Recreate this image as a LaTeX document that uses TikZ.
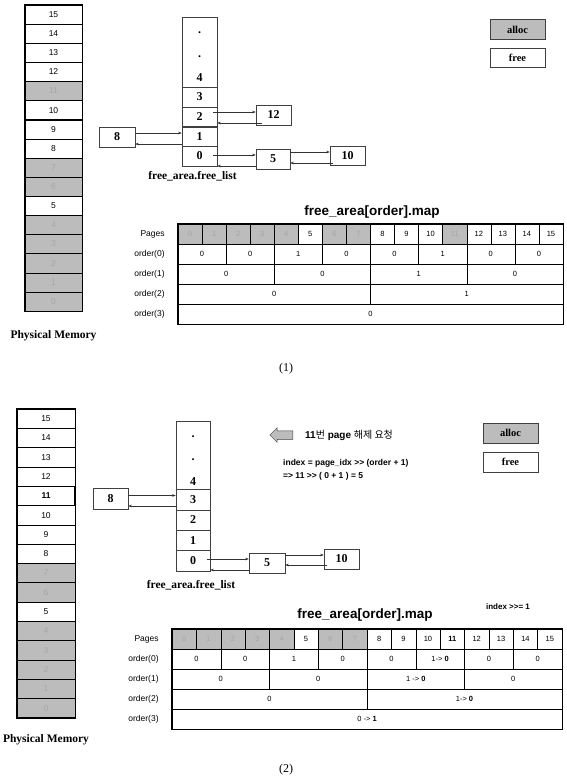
\documentclass[tikz,border=0pt]{standalone}
\usepackage{fontspec}
\setmainfont{Liberation Serif}
\setsansfont[Ligatures=TeXOff]{Liberation Sans}
\newfontfamily\krfont{Noto Sans CJK KR}
\usetikzlibrary{arrows.meta, positioning, shapes.arrows}

\definecolor{allocgray}{RGB}{188,188,188}
\colorlet{ghost}{black!35}

\tikzset{
  memcell/.style={draw, line width=0.5pt, minimum width=57pt, minimum height=19.15pt},
  allocated/.style={fill=allocgray, text=ghost},
  listcell/.style={draw=black!75, line width=0.5pt, minimum width=35pt, minimum height=19.75pt, font=\rmfamily\bfseries\fontsize{12}{12}\selectfont},
  listnode/.style={draw=black!75, line width=0.5pt, minimum width=35pt, minimum height=20pt, font=\rmfamily\bfseries\fontsize{12}{12}\selectfont},
  listnum/.style={font=\rmfamily\bfseries\fontsize{12}{12}\selectfont},
  legendbox/.style={draw=black!75, line width=0.5pt, minimum width=55pt, minimum height=19.5pt, font=\rmfamily\bfseries\fontsize{10.5}{11}\selectfont},
  mapcell/.style={draw, line width=0.4pt, minimum height=20pt, font=\sffamily\fontsize{7.5}{8}\selectfont},
  rowlabel/.style={anchor=east, font=\sffamily\fontsize{8.5}{9}\selectfont},
  link/.style={-{Stealth[length=3.5pt,width=2.6pt]}, line width=0.5pt, black!80},
  caption/.style={font=\rmfamily\bfseries\fontsize{11.5}{12}\selectfont}
}

\begin{document}
\begin{tikzpicture}[x=1pt, y=-1pt, every node/.style={inner sep=0pt, font=\sffamily\fontsize{8.5}{10}\selectfont}]
  \useasboundingbox[fill=white] (0,0) rectangle (567,784);

  % ---------- (1) ----------
  \foreach \p in {0,1,2,3,4,6,7,11}
    \node[memcell, allocated] (ma-\p) at (53.5, {5+(15.5-\p)*19.125}) {\p};
  \foreach \p in {5,8,9,10,12,13,14,15}
    \node[memcell] (ma-\p) at (53.5, {5+(15.5-\p)*19.125}) {\p};
  \draw[line width=1.3pt] (ma-15.north west) rectangle (ma-0.south east);
  \node[caption] (physa) at (53.5,336) {Physical Memory};

  \node[listcell, minimum height=70pt] (fla-top) at (199.5,52) {};
  \node[listnum] (fla-d1) at (199.5,33) {.};
  \node[listnum] (fla-d2) at (199.5,57) {.};
  \node[listnum] (fla-4) at (199.5,78) {4};
  \node[listcell] (fla-3) at (199.5,97) {3};
  \node[listcell] (fla-2) at (199.5,117) {2};
  \node[listcell] (fla-1) at (199.5,136.5) {1};
  \node[listcell] (fla-0) at (199.5,156) {0};
  \node[caption] (flabela) at (192.5,176) {free\_area.free\_list};

  \node[listnode, minimum width=36pt] (a8) at (117,137) {8};
  \node[listnode] (a12) at (273.5,115) {12};
  \node[listnode, minimum width=34pt] (a5) at (273,159) {5};
  \node[listnode, minimum height=19pt] (a10) at (347.5,155.5) {10};

  \draw[link] ([yshift=4pt]a8.east) -- ([yshift=4pt]a8.east -| fla-1.west);
  \draw[link] ([yshift=-7pt]a8.east -| fla-1.west) -- ([yshift=-7pt]a8.east);
  \draw[link] ([xshift=-4pt,yshift=5pt]fla-2.east) -- ([yshift=5pt]fla-2.east -| a12.west);
  \draw[link] ([xshift=6pt,yshift=-8pt]a12.west) -- ([yshift=-8pt]a12.west -| fla-2.east);
  \draw[link] ([xshift=-4pt,yshift=4pt]a5.west -| fla-0.east) -- ([yshift=4pt]a5.west);
  \draw[link] ([yshift=-7pt]a5.west) -- ([yshift=-7pt]a5.west -| fla-0.east);
  \draw[link] ([yshift=7pt]a5.east) -- ([yshift=7pt]a5.east -| a10.west);
  \draw[link] ([xshift=3pt,yshift=-4pt]a5.east -| a10.west) -- ([yshift=-4pt]a5.east);

  \node[legendbox, fill=allocgray] (alloca) at (517.5,29.5) {alloc};
  \node[legendbox] (freea) at (517.5,58) {free};

  \node[font=\sffamily\bfseries\fontsize{13.5}{14}\selectfont] (mapa) at (372,212) {free\_area[order].map};
  \foreach \p in {0,1,2,3,4,6,7,11}
    \node[mapcell, allocated, minimum width=24.06pt] (pa-\p) at ({178+(\p+0.5)*24.06}, 234) {\p};
  \foreach \p in {5,8,9,10,12,13,14,15}
    \node[mapcell, minimum width=24.06pt] (pa-\p) at ({178+(\p+0.5)*24.06}, 234) {\p};
  \foreach \v [count=\i from 0] in {0,0,1,0,0,1,0,0}
    \node[mapcell, minimum width=48.125pt] (oa0-\i) at ({178+(\i+0.5)*48.125}, 254) {\v};
  \foreach \v [count=\i from 0] in {0,0,1,0}
    \node[mapcell, minimum width=96.25pt] (oa1-\i) at ({178+(\i+0.5)*96.25}, 274) {\v};
  \foreach \v [count=\i from 0] in {0,1}
    \node[mapcell, minimum width=192.5pt] (oa2-\i) at ({178+(\i+0.5)*192.5}, 294) {\v};
  \node[mapcell, minimum width=385pt] (oa3-0) at (370.5,314) {0};
  \draw[line width=1.2pt] (pa-0.north west) rectangle (oa3-0.south east);
  \node[rowlabel, left=13pt of pa-0] (la-p) {Pages};
  \node[rowlabel, left=13pt of oa0-0] (la-0) {order(0)};
  \node[rowlabel, left=13pt of oa1-0] (la-1) {order(1)};
  \node[rowlabel, left=13pt of oa2-0] (la-2) {order(2)};
  \node[rowlabel, left=13pt of oa3-0] (la-3) {order(3)};

  \node[font=\rmfamily\fontsize{12}{12}\selectfont] (capa) at (286,369) {(1)};

  % ---------- (2) ----------
  \foreach \p in {0,1,2,3,4,6,7}
    \node[memcell, allocated, minimum width=58pt, minimum height=19.3pt] (mb-\p) at (46, {409+(15.5-\p)*19.3}) {\p};
  \foreach \p in {5,8,9,10,12,13,14,15}
    \node[memcell, minimum width=58pt, minimum height=19.3pt] (mb-\p) at (46, {409+(15.5-\p)*19.3}) {\p};
  \node[memcell, minimum width=58pt, minimum height=19.3pt, line width=1.1pt, font=\sffamily\bfseries\fontsize{8.5}{10}\selectfont] (mb-11) at (46, {409+4.5*19.3}) {11};
  \draw[line width=1.3pt] (mb-15.north west) rectangle (mb-0.south east);
  \node[caption] (physb) at (46,740) {Physical Memory};

  \node[listcell, minimum width=34pt, minimum height=68pt] (flb-top) at (193,455) {};
  \node[listnum] (flb-d1) at (193,437) {.};
  \node[listnum] (flb-d2) at (193,460) {.};
  \node[listnum] (flb-4) at (193,482) {4};
  \node[listcell, minimum width=34pt, minimum height=20.5pt] (flb-3) at (193,499.5) {3};
  \node[listcell, minimum width=34pt, minimum height=20.5pt] (flb-2) at (193,520) {2};
  \node[listcell, minimum width=34pt, minimum height=20.5pt] (flb-1) at (193,540.25) {1};
  \node[listcell, minimum width=34pt, minimum height=20.5pt] (flb-0) at (193,560.75) {0};
  \node[caption] (flabelb) at (191,585) {free\_area.free\_list};

  \node[listnode, minimum height=21pt] (b8) at (110.5,498.5) {8};
  \node[listnode, minimum width=36pt] (b5) at (267,563) {5};
  \node[listnode] (b10) at (341.5,559) {10};

  \draw[link] ([yshift=3pt]b8.east) -- ([yshift=3pt]b8.east -| flb-3.west);
  \draw[link] ([yshift=-7.5pt]b8.east -| flb-3.west) -- ([yshift=-7.5pt]b8.east);
  \draw[link] ([xshift=-3pt,yshift=4pt]b5.west -| flb-0.east) -- ([yshift=4pt]b5.west);
  \draw[link] ([yshift=-7pt]b5.west) -- ([yshift=-7pt]b5.west -| flb-0.east);
  \draw[link] ([yshift=8pt]b5.east) -- ([yshift=8pt]b5.east -| b10.west);
  \draw[link] ([xshift=3pt,yshift=-2pt]b5.east -| b10.west) -- ([yshift=-2pt]b5.east);

  \node[single arrow, shape border rotate=180, draw=black!75, fill=allocgray, line width=0.5pt,
        inner xsep=0pt, inner ysep=4pt, minimum height=23pt, single arrow head extend=3pt] (relarrow) at (283.5,435) {};
  \node[anchor=west, font=\sffamily\fontsize{10}{11}\selectfont] (reqtext) at (305,435)
    {\textbf{11}{\krfont 번} \textbf{page} {\krfont 해제 요청}};
  \node[anchor=west, align=left, font=\sffamily\bfseries\fontsize{8.5}{13}\selectfont] (idxtext) at (283,469.5)
    {index = page\_idx >> (order + 1)\\=> 11 >> ( 0 + 1 ) = 5};

  \node[legendbox, fill=allocgray] (allocb) at (510.5,433) {alloc};
  \node[legendbox] (freeb) at (510.5,462) {free};

  \node[font=\sffamily\bfseries\fontsize{13.5}{14}\selectfont] (mapb) at (365,615) {free\_area[order].map};
  \node[font=\sffamily\bfseries\fontsize{8}{9}\selectfont] (shift) at (508,607) {index >>= 1};
  \foreach \p in {0,1,2,3,4,6,7}
    \node[mapcell, allocated, minimum width=24.375pt] (pb-\p) at ({172+(\p+0.5)*24.375}, 639) {\p};
  \foreach \p in {5,8,9,10,12,13,14,15}
    \node[mapcell, minimum width=24.375pt] (pb-\p) at ({172+(\p+0.5)*24.375}, 639) {\p};
  \node[mapcell, minimum width=24.375pt, font=\sffamily\bfseries\fontsize{7.5}{8}\selectfont] (pb-11) at ({172+11.5*24.375}, 639) {11};
  \foreach \v [count=\i from 0] in {0,0,1,0,0,{1-> \textbf{0}},0,0}
    \node[mapcell, minimum width=48.75pt] (ob0-\i) at ({172+(\i+0.5)*48.75}, 659) {\v};
  \foreach \v [count=\i from 0] in {0,0,{1 -> \textbf{0}},0}
    \node[mapcell, minimum width=97.5pt] (ob1-\i) at ({172+(\i+0.5)*97.5}, 679) {\v};
  \foreach \v [count=\i from 0] in {0,{1-> \textbf{0}}}
    \node[mapcell, minimum width=195pt] (ob2-\i) at ({172+(\i+0.5)*195}, 699) {\v};
  \node[mapcell, minimum width=390pt] (ob3-0) at (367,719) {0 -> \textbf{1}};
  \draw[line width=1.2pt] (pb-0.north west) rectangle (ob3-0.south east);
  \node[rowlabel, left=13pt of pb-0] (lb-p) {Pages};
  \node[rowlabel, left=13pt of ob0-0] (lb-0) {order(0)};
  \node[rowlabel, left=13pt of ob1-0] (lb-1) {order(1)};
  \node[rowlabel, left=13pt of ob2-0] (lb-2) {order(2)};
  \node[rowlabel, left=13pt of ob3-0] (lb-3) {order(3)};

  \node[font=\rmfamily\fontsize{12}{12}\selectfont] (capb) at (286,770) {(2)};
\end{tikzpicture}
\end{document}
